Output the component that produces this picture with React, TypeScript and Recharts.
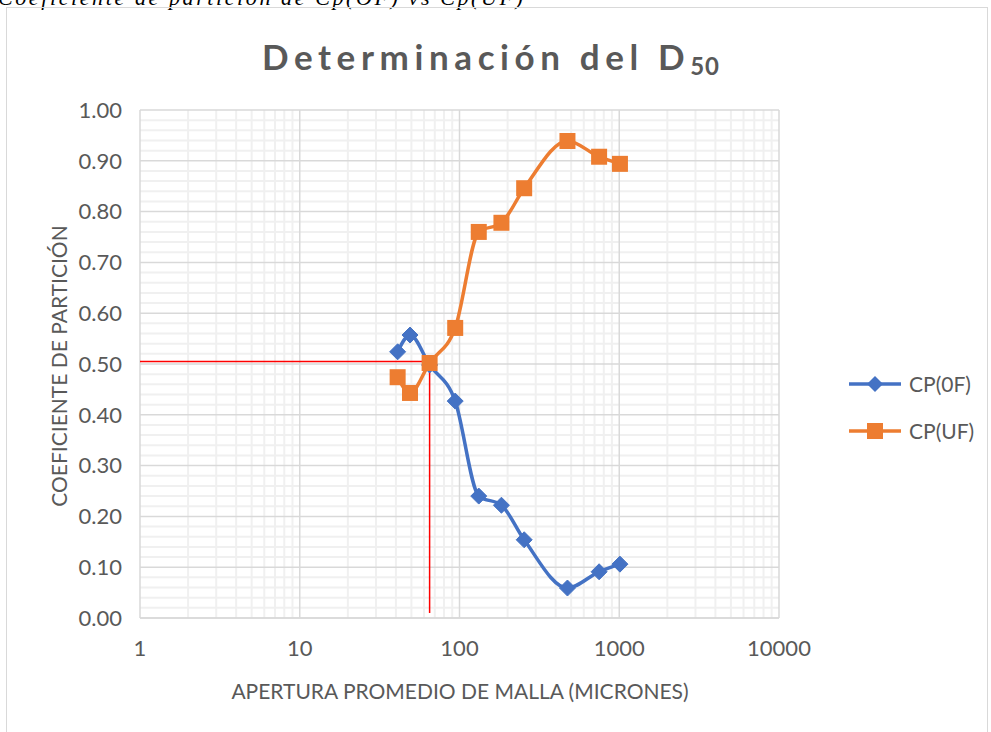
import React from "react";
import { LineChart, Line, XAxis, YAxis, CartesianGrid } from "recharts";

// Apertura promedio (micrones) y coeficientes de partición
const MESH = [41, 49, 65, 94, 132, 183, 254, 474, 748, 1010];
const CP_OF = [0.524, 0.557, 0.498, 0.427, 0.24, 0.222, 0.154, 0.059, 0.091, 0.106];
const CP_UF = [0.474, 0.443, 0.502, 0.571, 0.76, 0.778, 0.846, 0.939, 0.908, 0.894];

// Guía roja del D50
const D50_X = [1, 65, 65];
const D50_Y = [0.505, 0.505, 0.01];

const X_TICKS = [1, 10, 100, 1000, 10000];
const Y_TICKS = [0, 0.1, 0.2, 0.3, 0.4, 0.5, 0.6, 0.7, 0.8, 0.9, 1.0];
const X_DOMAIN = [1, 10000];
const Y_DOMAIN = [0, 1];

const BLUE = "#4472C4";
const ORANGE = "#ED7D31";
const TEXT = "#595959";
const FONT = "Lato, 'Open Sans', sans-serif";

// minor gridlines: 2..9 per decade, every 0.02 on y
const MINOR_X: number[] = [];
for (const d of [1, 10, 100, 1000]) for (let k = 2; k <= 9; k++) MINOR_X.push(d * k);
const MINOR_Y: number[] = [];
for (let i = 1; i < 50; i++) if (i % 5 !== 0) MINOR_Y.push(i / 50);

const ofData = MESH.map((x, i) => ({ x, y: CP_OF[i] }));
const ufData = MESH.map((x, i) => ({ x, y: CP_UF[i] }));
const d50Data = D50_X.map((x, i) => ({ x, y: D50_Y[i] }));

// use the axis scale when it is callable, else map through the domain
function applyScale(axis: any, v: number, fallback: () => number) {
  const s = axis && axis.scale;
  if (typeof s === "function") return s(v);
  if (s && typeof s.map === "function") return s.map(v);
  return fallback();
}

const minorV = ({ xAxis, offset }: any) =>
  MINOR_X.map((v) =>
    applyScale(xAxis, v, () => {
      const lo = Math.log10(X_DOMAIN[0]);
      const hi = Math.log10(X_DOMAIN[1]);
      return offset.left + ((Math.log10(v) - lo) / (hi - lo)) * offset.width;
    })
  );
const minorH = ({ yAxis, offset }: any) =>
  MINOR_Y.map((v) =>
    applyScale(yAxis, v, () => offset.top + (1 - (v - Y_DOMAIN[0]) / (Y_DOMAIN[1] - Y_DOMAIN[0])) * offset.height)
  );

const Diamond = (props: any) => {
  const { cx, cy } = props;
  if (cx == null || cy == null) return null;
  const r = 8;
  return (
    <path
      d={`M${cx},${cy - r}L${cx + r},${cy}L${cx},${cy + r}L${cx - r},${cy}Z`}
      fill={BLUE}
      stroke={BLUE}
      strokeWidth={1}
    />
  );
};

const Square = (props: any) => {
  const { cx, cy } = props;
  if (cx == null || cy == null) return null;
  const s = 16;
  return <rect x={cx - s / 2} y={cy - s / 2} width={s} height={s} fill={ORANGE} />;
};

const LEGEND_ITEMS = [
  { name: "CP(0F)", color: BLUE, shape: "d" },
  { name: "CP(UF)", color: ORANGE, shape: "s" },
];

const LegendBox = () => (
  <div style={{ position: "absolute", left: 849, top: 360, fontFamily: FONT, fontSize: 21, color: TEXT }}>
    {LEGEND_ITEMS.map((it) => (
      <div key={it.name} style={{ display: "flex", alignItems: "center", height: 47 }}>
        <svg width={54} height={20} style={{ marginRight: 6 }}>
          <line x1={0} y1={10} x2={52} y2={10} stroke={it.color} strokeWidth={3.5} />
          {it.shape === "d" ? (
            <path d="M26,2L34,10L26,18L18,10Z" fill={it.color} />
          ) : (
            <rect x={18} y={2} width={16} height={16} fill={it.color} />
          )}
        </svg>
        <span>{it.name}</span>
      </div>
    ))}
  </div>
);

export default function App() {
  return (
    <div style={{ position: "absolute", left: 0, top: 0, width: 991, height: 732, overflow: "hidden", background: "#fff" }}>
      <div
        style={{
          position: "absolute",
          left: -2,
          top: -15,
          fontFamily: "'Liberation Serif', serif",
          fontStyle: "italic",
          fontSize: 22,
          letterSpacing: 2.6,
          color: "#000",
          whiteSpace: "nowrap",
        }}
      >
        Coeficiente de partición de Cp(OF) vs Cp(UF)
      </div>
      <div
        style={{
          position: "absolute",
          left: 6,
          top: 7,
          width: 982,
          height: 740,
          border: "1.5px solid #d9d9d9",
          boxSizing: "border-box",
        }}
      />
      <div
        style={{
          position: "absolute",
          left: 491,
          top: 57,
          transform: "translate(-50%, -50%)",
          fontFamily: FONT,
          fontWeight: 700,
          fontSize: 35,
          letterSpacing: 5.6,
          color: TEXT,
          whiteSpace: "nowrap",
        }}
      >
        Determinación del D<sub style={{ fontSize: 24, verticalAlign: -5, letterSpacing: 1 }}>50</sub>
      </div>
      <div
        style={{
          position: "absolute",
          left: 58,
          top: 366,
          transform: "translate(-50%, -50%) rotate(-90deg)",
          fontFamily: FONT,
          fontSize: 21,
          color: TEXT,
          whiteSpace: "nowrap",
        }}
      >
        COEFICIENTE DE PARTICIÓN
      </div>
      <div
        style={{
          position: "absolute",
          left: 460,
          top: 690,
          transform: "translate(-50%, -50%)",
          fontFamily: FONT,
          fontSize: 21,
          color: TEXT,
          whiteSpace: "nowrap",
        }}
      >
        APERTURA PROMEDIO DE MALLA (MICRONES)
      </div>
      <div style={{ position: "absolute", left: 0, top: 0 }}>
        <LineChart width={991} height={732} margin={{ top: 110, right: 212, bottom: 74, left: 80 }}>
          <CartesianGrid
            stroke="#f0f0f0"
            strokeWidth={2}
            verticalCoordinatesGenerator={minorV}
            horizontalCoordinatesGenerator={minorH}
          />
          <CartesianGrid stroke="#d9d9d9" strokeWidth={1.5} />
          <XAxis
            dataKey="x"
            type="number"
            scale="log"
            domain={X_DOMAIN}
            ticks={X_TICKS}
            allowDataOverflow
            axisLine={{ stroke: "#d9d9d9", strokeWidth: 1.5 }}
            tickLine={false}
            tickSize={0}
            tickMargin={22}
            height={40}
            tick={{ fontSize: 22, fill: TEXT, fontFamily: FONT }}
          />
          <YAxis
            type="number"
            domain={Y_DOMAIN}
            ticks={Y_TICKS}
            width={60}
            axisLine={false}
            tickLine={false}
            tickSize={0}
            tickMargin={18}
            tickFormatter={(v: number) => v.toFixed(2)}
            tick={{ fontSize: 22, fill: TEXT, fontFamily: FONT }}
          />
          <Line
            data={d50Data}
            dataKey="y"
            type="linear"
            stroke="#FF0000"
            strokeWidth={1.5}
            dot={false}
            activeDot={false}
            isAnimationActive={false}
            legendType="none"
          />
          <Line
            data={ofData}
            dataKey="y"
            name="CP(0F)"
            type="monotone"
            stroke={BLUE}
            strokeWidth={3.5}
            dot={<Diamond />}
            activeDot={false}
            isAnimationActive={false}
          />
          <Line
            data={ufData}
            dataKey="y"
            name="CP(UF)"
            type="monotone"
            stroke={ORANGE}
            strokeWidth={3.5}
            dot={<Square />}
            activeDot={false}
            isAnimationActive={false}
          />
        </LineChart>
      </div>
      <LegendBox />
    </div>
  );
}
